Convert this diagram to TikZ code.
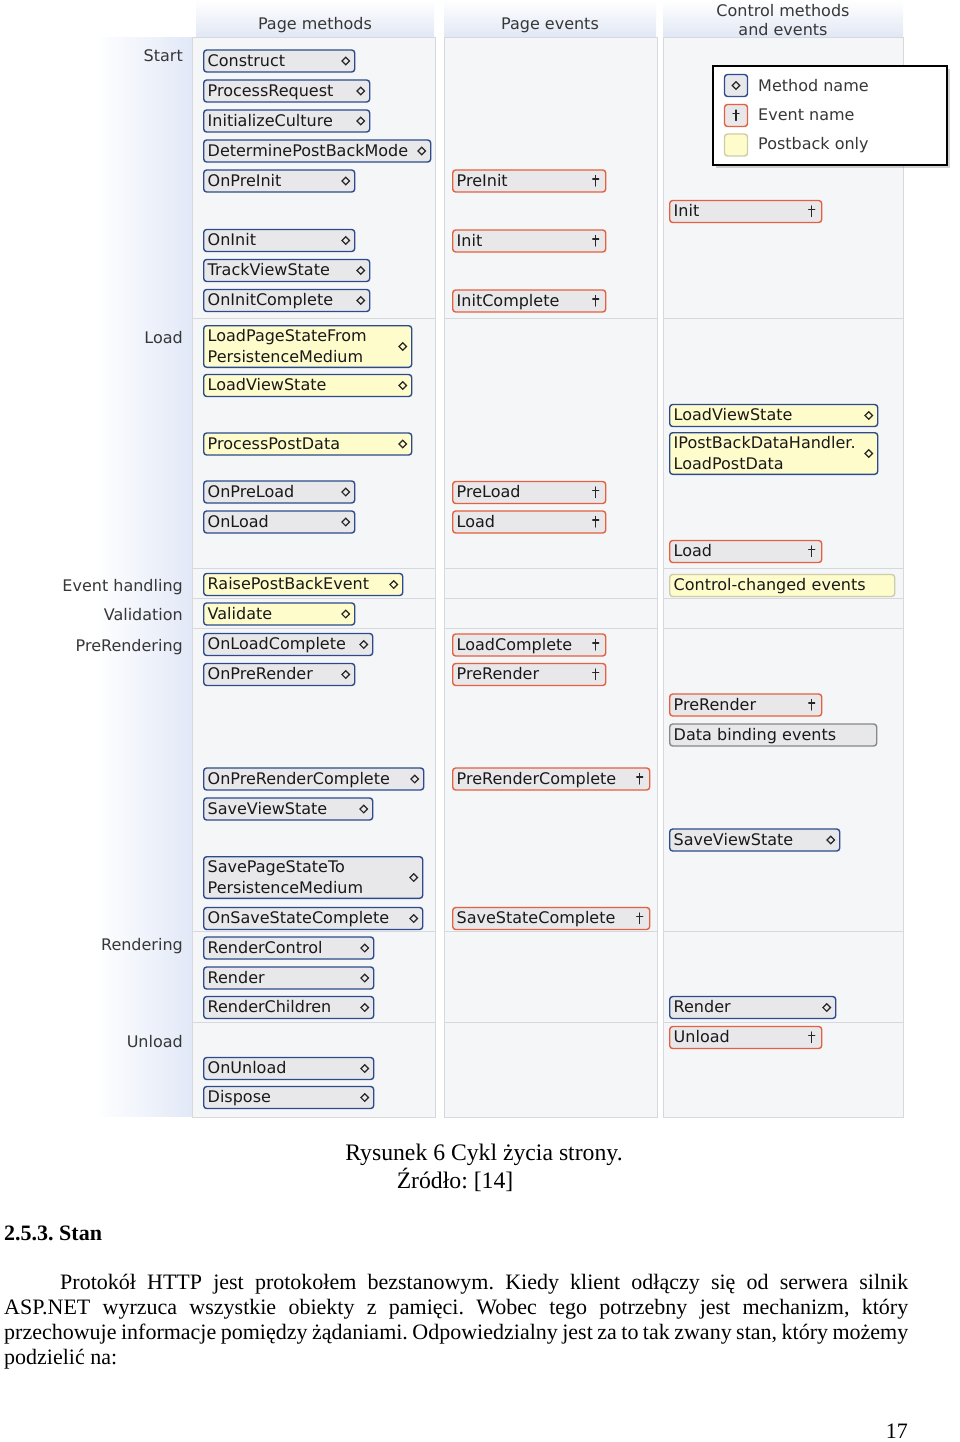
\documentclass[tikz,border=0pt]{standalone}
\usepackage{fontspec}
\setmainfont{Liberation Serif}
\newfontfamily\diagfamily{DejaVu Sans}
\usetikzlibrary{shadows}
\definecolor{methBorder}{RGB}{44,74,140}
\definecolor{evtBorder}{RGB}{228,96,64}
\definecolor{boxFill}{RGB}{232,232,235}
\definecolor{pbFill}{RGB}{255,252,204}
\definecolor{pbBorder}{RGB}{205,205,170}
\definecolor{dbBorder}{RGB}{135,135,140}
\definecolor{panelFill}{RGB}{245,246,248}
\definecolor{panelLine}{RGB}{214,216,221}
\definecolor{headBot}{RGB}{224,231,244}
\definecolor{sideBlue}{RGB}{225,232,247}
\definecolor{lblGray}{RGB}{55,55,55}
\definecolor{boxText}{RGB}{25,25,25}
\newcommand{\boxfont}{\diagfamily\fontsize{16}{19}\selectfont}
\newcommand{\bodyfont}{\fontsize{22}{25}\selectfont\frenchspacing}
\newcommand{\capfont}{\fontsize{23.7}{28}\selectfont\frenchspacing}
\newcommand{\boxstrut}{\rule[-4.3pt]{0pt}{19.3pt}}
\newcommand{\drawdia}[1]{\draw[symb] (#1) +(0pt,3.8pt) -- +(3.8pt,0pt) -- +(0pt,-3.8pt) -- +(-3.8pt,0pt) -- cycle;}
\newcommand{\drawdag}[1]{\draw[symb] (#1) +(0pt,5.5pt) -- +(0pt,-5pt) (#1) +(-3pt,2pt) -- +(3pt,2pt);}

\begin{document}
\begin{tikzpicture}[
    x=1pt, y=-1pt,
    symb/.style={sharp corners, line width=1.2pt, draw=black!85, line cap=round, line join=miter},
    box/.style={draw, rounded corners=3pt, line width=1.4pt, fill=boxFill, anchor=west, minimum height=22pt, inner xsep=4pt, inner ysep=1pt, align=left, font=\boxfont, text=boxText, execute at begin node=\boxstrut},
    meth/.style={box, draw=methBorder, path picture={\drawdia{[xshift=-9pt]path picture bounding box.east}}},
    evt/.style={box, draw=evtBorder, path picture={\drawdag{[xshift=-10pt]path picture bounding box.east}}},
    pb/.style={fill=pbFill},
    panel/.style={fill=panelFill, draw=panelLine, line width=1pt},
    rowlbl/.style={anchor=base east, font=\boxfont, text=lblGray, inner sep=0pt},
    headlbl/.style={font=\boxfont, text=lblGray, inner sep=0pt, align=center},
    lgicon/.style={draw, rounded corners=3pt, line width=1.4pt, fill=boxFill, minimum width=23pt, minimum height=22pt, inner sep=0pt},
    lgtext/.style={anchor=base west, font=\boxfont, text=lblGray, inner sep=0pt},
    captxt/.style={anchor=base, font=\capfont, inner sep=0pt}
  ]
  \useasboundingbox (0,0) rectangle (960,1442);
  \fill[white] (0,0) rectangle (960,1442);

  % background: side band, headers, panels
  \shade[left color=white, right color=sideBlue] (95,38) rectangle (192,1116);
  \foreach \xa/\xb in {196/434,444/656,663/903}
    \shade[top color=white, bottom color=headBot] (\xa,0) rectangle (\xb,38);
  \foreach \xa/\xb in {192/435,444/657,663/903}{
    \foreach \ya/\yb in {38/318,318/568,568/598,598/628,628/931,931/1022,1022/1117}
      \draw[panel] (\xa,\ya) rectangle (\xb,\yb);
  }

  \node[headlbl, anchor=base] (hdPageMeth) at (315,30) {Page methods};
  \node[headlbl, anchor=base] (hdPageEvt) at (550,30) {Page events};
  \node[headlbl] (hdCtrl) at (783,20.5) {Control methods\\and events};

  \node[rowlbl] (lblStart) at (183,62) {Start};
  \node[rowlbl] (lblLoad) at (183,343) {Load};
  \node[rowlbl] (lblEvents) at (183,591) {Event handling};
  \node[rowlbl] (lblValid) at (183,620) {Validation};
  \node[rowlbl] (lblPreRend) at (183,651) {PreRendering};
  \node[rowlbl] (lblRend) at (183,950) {Rendering};
  \node[rowlbl] (lblUnload) at (183,1047) {Unload};

  % page methods
  \node[meth, text width=143pt] (pmConstruct) at (203,61) {Construct};
  \node[meth, text width=158pt] (pmProcReq) at (203,91) {ProcessRequest};
  \node[meth, text width=158pt] (pmInitCult) at (203,121) {InitializeCulture};
  \node[meth, text width=219pt] (pmDetPB) at (203,151) {DeterminePostBackMode};
  \node[meth, text width=143pt] (pmPreInit) at (203,181) {OnPreInit};
  \node[meth, text width=143pt] (pmInit) at (203,240.5) {OnInit};
  \node[meth, text width=158pt] (pmTrackVS) at (203,270.5) {TrackViewState};
  \node[meth, text width=158pt] (pmInitComp) at (203,300.5) {OnInitComplete};
  \node[meth, pb, text width=200pt] (pmLoadPS) at (203,346.5) {LoadPageStateFrom\\PersistenceMedium\boxstrut};
  \node[meth, pb, text width=200pt] (pmLoadVS) at (203,385.5) {LoadViewState};
  \node[meth, pb, text width=200pt] (pmProcPD) at (203,444) {ProcessPostData};
  \node[meth, text width=143pt] (pmPreLoad) at (203,492) {OnPreLoad};
  \node[meth, text width=143pt] (pmLoad) at (203,522) {OnLoad};
  \node[meth, pb, text width=191pt] (pmRaisePB) at (203,584.5) {RaisePostBackEvent};
  \node[meth, pb, text width=143pt] (pmValidate) at (203,614) {Validate};
  \node[meth, text width=161pt] (pmLoadComp) at (203,644.5) {OnLoadComplete};
  \node[meth, text width=143pt] (pmPreRender) at (203,674.5) {OnPreRender};
  \node[meth, text width=212pt] (pmPreRComp) at (203,779) {OnPreRenderComplete};
  \node[meth, text width=161pt] (pmSaveVS) at (203,809) {SaveViewState};
  \node[meth, text width=211pt] (pmSavePS) at (203,877.5) {SavePageStateTo\\PersistenceMedium\boxstrut};
  \node[meth, text width=211pt] (pmSaveComp) at (203,918.5) {OnSaveStateComplete};
  \node[meth, text width=162pt] (pmRenderCtl) at (203,948) {RenderControl};
  \node[meth, text width=162pt] (pmRender) at (203,978) {Render};
  \node[meth, text width=162pt] (pmRenderCh) at (203,1007.5) {RenderChildren};
  \node[meth, text width=162pt] (pmUnload) at (203,1068.5) {OnUnload};
  \node[meth, text width=162pt] (pmDispose) at (203,1097.5) {Dispose};

  % page events
  \node[evt, text width=145pt] (pePreInit) at (452,181) {PreInit};
  \node[evt, text width=145pt] (peInit) at (452,241) {Init};
  \node[evt, text width=145pt] (peInitComp) at (452,301) {InitComplete};
  \node[evt, text width=145pt] (pePreLoad) at (452,492.5) {PreLoad};
  \node[evt, text width=145pt] (peLoad) at (452,522) {Load};
  \node[evt, text width=145pt] (peLoadComp) at (452,645) {LoadComplete};
  \node[evt, text width=145pt] (pePreRender) at (452,674.5) {PreRender};
  \node[evt, text width=189pt] (pePreRComp) at (452,779) {PreRenderComplete};
  \node[evt, text width=189pt] (peSaveComp) at (452,918.5) {SaveStateComplete};

  % control methods and events
  \node[evt, text width=144pt] (cmInit) at (669,211.5) {Init};
  \node[meth, pb, text width=200pt] (cmLoadVS) at (669,415.5) {LoadViewState};
  \node[meth, pb, text width=200pt] (cmLoadPD) at (669,453.5) {IPostBackDataHandler.\\LoadPostData\boxstrut};
  \node[evt, text width=144pt] (cmLoad) at (669,551.5) {Load};
  \node[box, pb, draw=pbBorder, text width=217pt] (cmChanged) at (669,585.5) {Control-changed events};
  \node[evt, text width=144pt] (cmPreRender) at (669,705) {PreRender};
  \node[box, draw=dbBorder, text width=199pt] (cmDataBind) at (669,735) {Data binding events};
  \node[meth, text width=162pt] (cmSaveVS) at (669,840) {SaveViewState};
  \node[meth, text width=158pt] (cmRender) at (669,1007.5) {Render};
  \node[evt, text width=144pt] (cmUnload) at (669,1037.5) {Unload};

  % legend
  \draw[fill=white, line width=1.5pt, drop shadow={opacity=0.35, shadow xshift=3pt, shadow yshift=-3pt}] (713,66) rectangle (947,165);
  \node[lgicon, draw=methBorder, path picture={\drawdia{path picture bounding box.center}}] (lgMeth) at (736,85.5) {};
  \node[lgicon, draw=evtBorder, path picture={\drawdag{path picture bounding box.center}}] (lgEvt) at (736,115.5) {};
  \node[lgicon, draw=pbBorder, fill=pbFill] (lgPb) at (736,145) {};
  \node[lgtext] (lgMethTxt) at (758,92) {Method name};
  \node[lgtext] (lgEvtTxt) at (758,121) {Event name};
  \node[lgtext] (lgPbTxt) at (758,150) {Postback only};

  % page text below the figure
  \node[captxt] (capMain) at (484,1160) {Rysunek 6 Cykl życia strony.};
  \node[captxt] (capSrc) at (455,1188) {Źródło: [14]};
  \node[anchor=base west, inner sep=0pt, font=\bodyfont\bfseries] (secHead) at (4,1240) {2.5.3. Stan};
  \node[anchor=base west, inner sep=0pt, text width=904pt, align=justify, font=\bodyfont] (txtBody) at (4,1289)
    {\hspace*{56pt}Protokół HTTP jest protokołem bezstanowym. Kiedy klient odłączy się od serwera silnik\linebreak
     ASP.NET wyrzuca wszystkie obiekty z pamięci. Wobec tego potrzebny jest mechanizm, który\linebreak
     przechowuje informacje pomiędzy żądaniami. Odpowiedzialny jest za to tak zwany stan, który możemy\linebreak
     podzielić na:};
  \node[anchor=base east, inner sep=0pt, font=\bodyfont] (pageNo) at (908,1438) {17};
\end{tikzpicture}
\end{document}
